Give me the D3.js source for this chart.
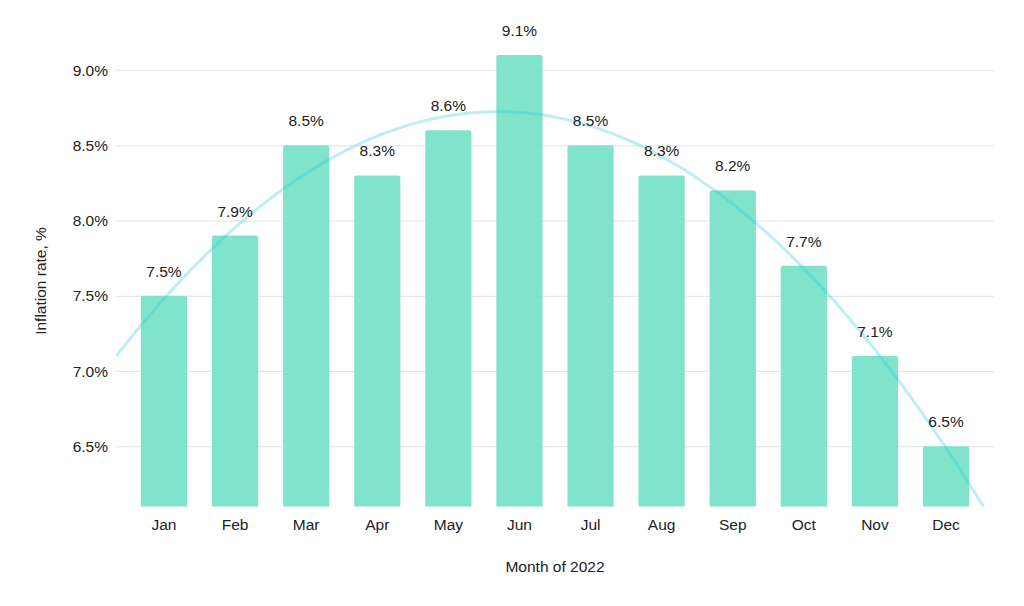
<!DOCTYPE html>
<html>
<head>
<meta charset="utf-8">
<script src="https://cdn.jsdelivr.net/npm/d3@7"></script>
<style>
  html, body { margin: 0; padding: 0; background: #fff; }
  svg text { font-family: "Liberation Sans", Arial, sans-serif; fill: #222; }
</style>
</head>
<body>
<svg id="chart" width="1024" height="606"></svg>
<script>
const months = ["Jan","Feb","Mar","Apr","May","Jun","Jul","Aug","Sep","Oct","Nov","Dec"];
const inflation = [7.5, 7.9, 8.5, 8.3, 8.6, 9.1, 8.5, 8.3, 8.2, 7.7, 7.1, 6.5];
const yTicks = [6.5, 7.0, 7.5, 8.0, 8.5, 9.0];
const xTitle = "Month of 2022";
const yTitle = "Inflation rate, %";

const W = 1024, H = 606;
const plot = { left: 116, right: 994, top: 40, bottom: 506.5 };
const FONT = "'Liberation Sans', Arial, sans-serif";
const FS = 15.5;

const svg = d3.select("#chart");

const x = d3.scaleBand().domain(months).range([plot.left, plot.right]).padding(0.35);
const y = d3.scaleLinear().domain([6.1, 9.1]).range([plot.bottom, 55]);

// gridlines + y labels
const yAxis = d3.axisLeft(y).tickValues(yTicks).tickSize(-(plot.right - plot.left))
  .tickPadding(8).tickFormat(d => d.toFixed(1) + "%");
const gy = svg.append("g").attr("transform", `translate(${plot.left},0)`).call(yAxis);
gy.select(".domain").remove();
gy.selectAll(".tick line").attr("stroke", "#e2e2e2").attr("stroke-width", 1);
gy.selectAll(".tick text").attr("font-size", FS).attr("fill", "#222").style("font-family", FONT);

// bars with slightly rounded top corners
const r = 2;
svg.append("g").selectAll("path").data(inflation).join("path")
  .attr("fill", "#80e4cd")
  .attr("d", (d, i) => {
    const x0 = x(months[i]), x1 = x0 + x.bandwidth(), y0 = y(d), yb = y.range()[0];
    return `M${x0},${yb}V${y0 + r}Q${x0},${y0} ${x0 + r},${y0}H${x1 - r}Q${x1},${y0} ${x1},${y0 + r}V${yb}Z`;
  });

// quadratic least-squares trendline fitted to the series
function quadFit(ys) {
  let s = [0,0,0,0,0], t = [0,0,0];
  ys.forEach((v, i) => {
    for (let k = 0; k <= 4; k++) s[k] += Math.pow(i, k);
    for (let k = 0; k <= 2; k++) t[k] += v * Math.pow(i, k);
  });
  const M = [[s[0], s[1], s[2], t[0]], [s[1], s[2], s[3], t[1]], [s[2], s[3], s[4], t[2]]];
  for (let c = 0; c < 3; c++) {
    for (let rr = c + 1; rr < 3; rr++) {
      const f = M[rr][c] / M[c][c];
      for (let k = c; k < 4; k++) M[rr][k] -= f * M[c][k];
    }
  }
  const coef = [0,0,0];
  for (let rr = 2; rr >= 0; rr--) {
    let v = M[rr][3];
    for (let k = rr + 1; k < 3; k++) v -= M[rr][k] * coef[k];
    coef[rr] = v / M[rr][rr];
  }
  return coef;
}
const [c0, c1, c2] = quadFit(inflation);
const xi = d3.scaleLinear().domain([0, months.length - 1])
  .range([x(months[0]) + x.bandwidth() / 2, x(months[months.length - 1]) + x.bandwidth() / 2]);
const iStart = xi.invert(plot.left), iEnd = xi.invert(plot.right);
const trend = d3.range(0, 201).map(k => {
  const t = iStart + (iEnd - iStart) * k / 200;
  return [t, c0 + c1 * t + c2 * t * t];
});
svg.append("clipPath").attr("id", "clip").append("rect")
  .attr("x", plot.left).attr("y", 0).attr("width", plot.right - plot.left).attr("height", plot.bottom);
svg.append("path").datum(trend)
  .attr("clip-path", "url(#clip)")
  .attr("fill", "none").attr("stroke", "#26c6da").attr("stroke-opacity", 0.3).attr("stroke-width", 3)
  .attr("d", d3.line().x(d => xi(d[0])).y(d => y(d[1])));

// value labels
svg.append("g").selectAll("text").data(inflation).join("text")
  .attr("x", (d, i) => x(months[i]) + x.bandwidth() / 2)
  .attr("y", d => y(d) - 19)
  .attr("text-anchor", "middle").attr("font-size", FS)
  .text(d => d.toFixed(1) + "%");

// x labels
const xAxis = d3.axisBottom(x).tickSize(0).tickPadding(0);
const gx = svg.append("g").attr("transform", `translate(0,${plot.bottom})`).call(xAxis);
gx.select(".domain").remove();
gx.selectAll(".tick text").attr("font-size", FS).attr("fill", "#222")
  .attr("dy", null).attr("y", 23).style("font-family", FONT);

// axis titles
svg.append("text").attr("x", (plot.left + plot.right) / 2).attr("y", 572)
  .attr("text-anchor", "middle").attr("font-size", FS).text(xTitle);
svg.append("text").attr("transform", `translate(46,281) rotate(-90)`)
  .attr("text-anchor", "middle").attr("font-size", FS).text(yTitle);
</script>
</body>
</html>
